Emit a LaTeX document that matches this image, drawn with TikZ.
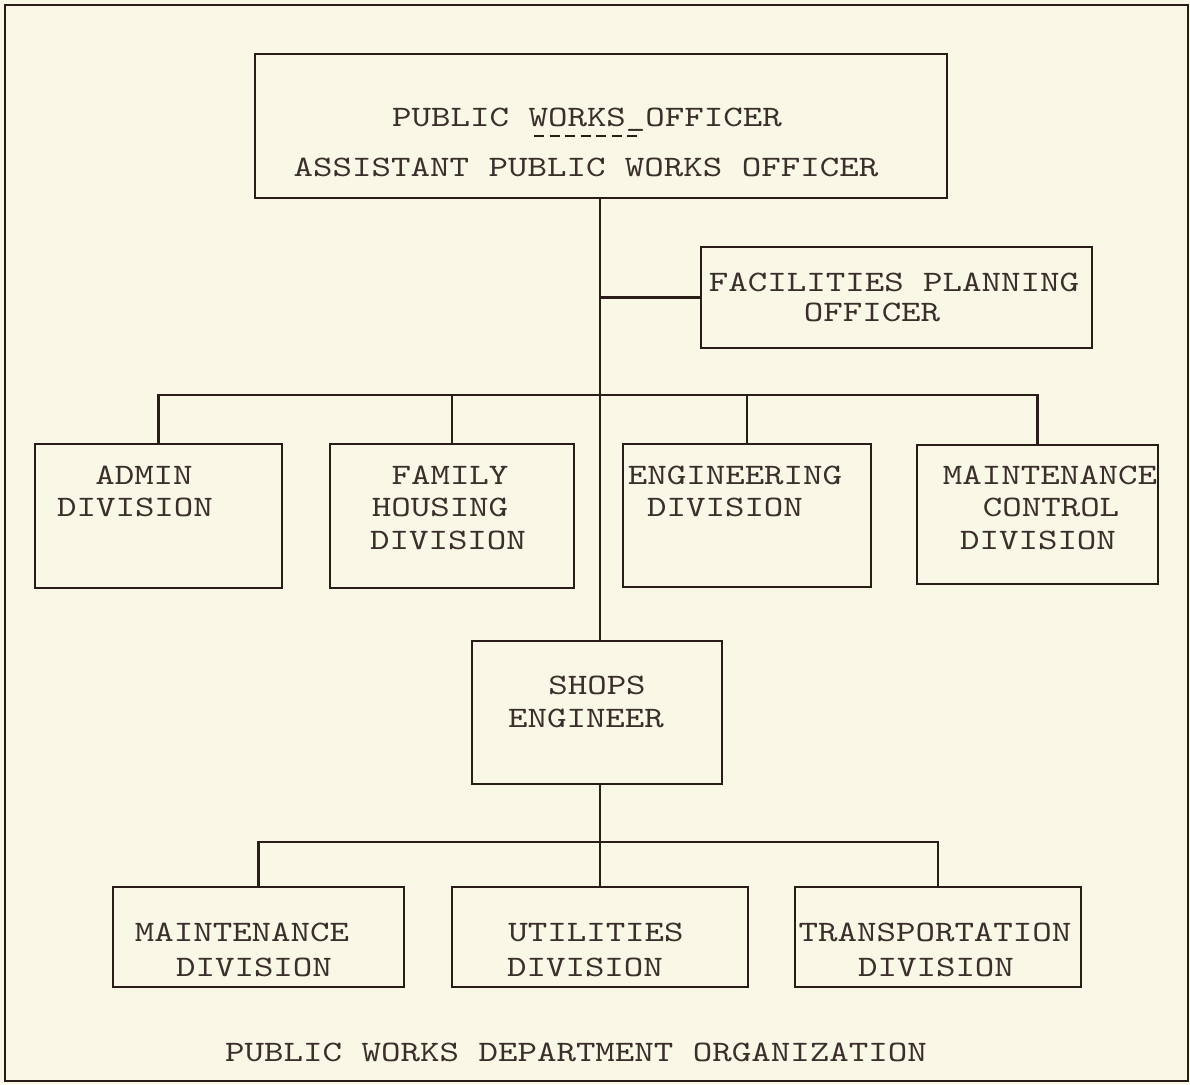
\documentclass[tikz,border=0pt]{standalone}
\usepackage{fontspec}
\setmonofont{lmmono10-regular.otf}[FakeStretch=1.25]
\definecolor{paper}{HTML}{F9F7E6}
\definecolor{ink}{HTML}{2A1C18}
\definecolor{typeink}{HTML}{3A2F2B}
\tikzset{
  orgbox/.style={draw=ink, line width=2.6pt, rectangle, inner sep=0pt},
  link/.style={draw=ink, line width=2.4pt},
  lbl/.style={anchor=base, inner sep=0pt, text=typeink,
    font=\ttfamily\fontsize{29.7}{31}\selectfont},
}
\newcommand{\orgrect}[5]{\node[orgbox, minimum width={#4-#2}, minimum height={#5-#3}] (#1) at ({(#2+#4)/2},{(#3+#5)/2}) {};}
\begin{document}
\begin{tikzpicture}[x=1pt,y=-1pt]
\useasboundingbox (0,0) rectangle (1190,1084);
\fill[paper] (0,0) rectangle (1190,1084);
\node[draw=ink, line width=2.6pt, minimum width=1183pt, minimum height=1076pt, inner sep=0pt] (frame) at (596.5,543) {};

% boxes
\orgrect{top}{255}{54}{947}{198}
\orgrect{fac}{701}{247}{1092}{348}
\orgrect{admin}{35}{444}{282}{588}
\orgrect{family}{330}{444}{574}{588}
\orgrect{eng}{623}{444}{871}{587}
\orgrect{mctrl}{917}{445}{1158}{584}
\orgrect{shops}{472}{641}{722}{784}
\orgrect{maint}{113}{887}{404}{987}
\orgrect{util}{452}{887}{748}{987}
\orgrect{trans}{795}{887}{1081}{987}

% texts
\node[lbl] (t1) at (587,126) {PUBLIC WORKS\_OFFICER};
\node[lbl] (t2) at (586,176) {ASSISTANT PUBLIC WORKS OFFICER};
\coordinate (ulA) at (534,136);
\coordinate (ulB) at (638,136);
\draw[ink, line width=2pt, dash pattern=on 10pt off 5.5pt] (ulA) -- (ulB);

\node[lbl] (f1) at (894,291) {FACILITIES PLANNING};
\node[lbl] (f2) at (872,321) {OFFICER};

\node[lbl] (a1) at (144,484) {ADMIN};
\node[lbl] (a2) at (135,516) {DIVISION};

\node[lbl] (h1) at (450,484) {FAMILY};
\node[lbl] (h2) at (440,516) {HOUSING};
\node[lbl] (h3) at (448,549) {DIVISION};

\node[lbl] (e1) at (735,484) {ENGINEERING};
\node[lbl] (e2) at (725,516) {DIVISION};

\node[lbl] (m1) at (1050,484) {MAINTENANCE};
\node[lbl] (m2) at (1051,516) {CONTROL};
\node[lbl] (m3) at (1038,549) {DIVISION};

\node[lbl] (s1) at (597,694) {SHOPS};
\node[lbl] (s2) at (586,727) {ENGINEER};

\node[lbl] (d1) at (242,941) {MAINTENANCE};
\node[lbl] (d2) at (254,976) {DIVISION};

\node[lbl] (u1) at (596,941) {UTILITIES};
\node[lbl] (u2) at (585,976) {DIVISION};

\node[lbl] (r1) at (935,941) {TRANSPORTATION};
\node[lbl] (r2) at (936,976) {DIVISION};

\node[lbl] (title) at (576,1061) {PUBLIC WORKS DEPARTMENT ORGANIZATION};

% connectors
\coordinate (trunkx) at (600,0);
\coordinate (ubus) at (0,395);
\coordinate (lbus) at (0,842);
\draw[link] (top.south -| trunkx) -- (shops.north -| trunkx);
\draw[link] (fac.west -| trunkx) -- (fac.west);
\draw[link] (admin.north) -- (admin.north |- ubus) -- (mctrl.north |- ubus) -- (mctrl.north);
\draw[link] (family.north) -- (family.north |- ubus);
\draw[link] (eng.north) -- (eng.north |- ubus);
\draw[link] (shops.south -| trunkx) -- (util.north -| trunkx);
\draw[link] (maint.north) -- (maint.north |- lbus) -- (trans.north |- lbus) -- (trans.north);
\end{tikzpicture}
\end{document}
